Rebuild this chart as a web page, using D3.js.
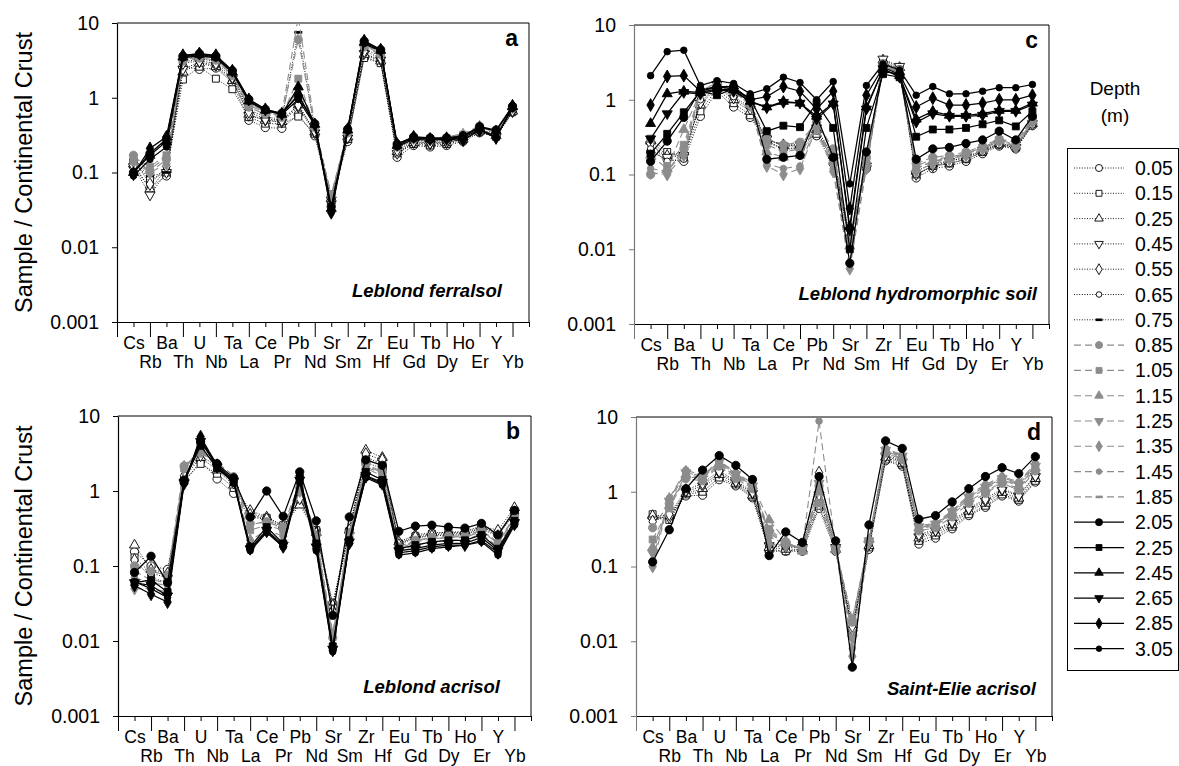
<!DOCTYPE html>
<html>
<head>
<meta charset="utf-8">
<script src="https://cdn.jsdelivr.net/npm/d3@7"></script>
<style>
  body { margin: 0; background: #fff; }
  svg { display: block; font-family: "Liberation Sans", Arial, sans-serif; }
</style>
</head>
<body>
<svg id="chart" width="1179" height="766"></svg>
<script>
// element order along the x axis (1..24)
const elements = ["Cs","Rb","Ba","Th","U","Nb","Ta","La","Ce","Pr","Pb","Nd",
                  "Sr","Sm","Zr","Hf","Eu","Gd","Tb","Dy","Ho","Er","Y","Yb"];
const yTicks = [0.001, 0.01, 0.1, 1, 10];
const depthLabels = ["0.05","0.15","0.25","0.45","0.55","0.65","0.75","0.85","1.05","1.15",
                     "1.25","1.35","1.45","1.85","2.05","2.25","2.45","2.65","2.85","3.05"];

// a - Leblond ferralsol
const ferralsolDepths = ["0.05","0.15","0.25","0.45","0.55","0.75","0.85","1.05","1.35","1.85","2.05","2.45","2.85","3.05"];
const ferralsolValues = [
  [0.12,0.062,0.09,2.6,2.4,2.5,1.6,0.5,0.4,0.39,0.6,0.31,0.04,0.26,3.5,3.0,0.16,0.23,0.22,0.23,0.26,0.34,0.3,0.64],
  [0.14,0.08,0.1,1.75,2.6,1.8,1.3,0.55,0.45,0.45,0.56,0.33,0.042,0.28,3.4,2.9,0.18,0.24,0.23,0.24,0.27,0.35,0.3,0.65],
  [0.13,0.06,0.11,2.2,2.9,2.6,1.7,0.6,0.5,0.48,0.8,0.35,0.045,0.3,3.8,3.1,0.19,0.25,0.25,0.25,0.28,0.36,0.31,0.66],
  [0.12,0.05,0.1,2.4,3.0,2.7,1.8,0.58,0.5,0.47,0.75,0.34,0.043,0.29,3.9,3.2,0.18,0.25,0.24,0.25,0.28,0.36,0.3,0.65],
  [0.15,0.07,0.12,2.9,3.1,2.9,1.9,0.65,0.52,0.5,0.8,0.36,0.045,0.3,4.2,3.4,0.2,0.26,0.25,0.26,0.29,0.37,0.32,0.68],
  [0.14,0.09,0.1,3.0,3.3,3.1,2.0,0.7,0.55,0.52,7.5,0.38,0.045,0.32,4.5,3.6,0.21,0.27,0.26,0.27,0.3,0.38,0.33,0.7],
  [0.17,0.1,0.15,3.1,3.4,3.2,2.0,0.75,0.6,0.55,6.0,0.4,0.05,0.34,4.8,3.8,0.22,0.28,0.27,0.28,0.31,0.4,0.34,0.72],
  [0.16,0.12,0.17,3.2,3.5,3.3,2.1,0.8,0.63,0.57,1.8,0.41,0.05,0.35,5.0,3.9,0.22,0.29,0.28,0.29,0.32,0.41,0.35,0.74],
  [0.14,0.1,0.13,3.3,3.6,3.4,2.1,0.85,0.65,0.58,1.3,0.42,0.048,0.36,5.2,4.0,0.23,0.29,0.28,0.29,0.32,0.41,0.35,0.75],
  [0.13,0.11,0.16,3.3,3.6,3.4,2.2,0.85,0.66,0.6,12,0.43,0.048,0.37,5.2,4.1,0.23,0.3,0.29,0.3,0.33,0.42,0.36,0.76],
  [0.1,0.18,0.28,3.6,3.9,3.6,2.3,0.95,0.7,0.62,1.05,0.45,0.035,0.38,5.7,4.4,0.24,0.3,0.29,0.29,0.31,0.41,0.37,0.77],
  [0.1,0.17,0.26,3.5,3.8,3.5,2.2,0.9,0.68,0.6,1.4,0.44,0.033,0.37,5.5,4.3,0.23,0.29,0.28,0.29,0.3,0.4,0.36,0.76],
  [0.095,0.21,0.3,3.7,3.9,3.7,2.3,0.95,0.7,0.61,1.1,0.44,0.029,0.38,5.8,4.4,0.24,0.3,0.28,0.28,0.27,0.37,0.29,0.78],
  [0.09,0.15,0.22,3.4,3.7,3.4,2.2,0.9,0.67,0.6,0.95,0.43,0.031,0.36,5.3,4.2,0.22,0.28,0.27,0.28,0.29,0.38,0.3,0.72]
];

// b - Leblond acrisol
const acrisolDepths = ["0.05","0.15","0.25","0.55","0.85","1.05","1.35","1.45","2.05","2.25","2.65","2.85","3.05"];
const acrisolValues = [
  [0.155,0.1,0.09,1.3,2.5,1.45,0.93,0.45,0.42,0.33,0.75,0.3,0.032,0.3,2.4,2.0,0.2,0.24,0.26,0.27,0.27,0.32,0.26,0.5],
  [0.13,0.08,0.07,1.4,2.3,1.7,1.1,0.5,0.44,0.35,0.7,0.3,0.028,0.29,2.8,2.3,0.2,0.25,0.27,0.28,0.28,0.33,0.27,0.55],
  [0.19,0.09,0.08,1.5,2.8,1.9,1.2,0.55,0.45,0.34,0.65,0.28,0.03,0.3,3.5,2.8,0.21,0.26,0.28,0.28,0.29,0.34,0.3,0.6],
  [0.12,0.07,0.06,1.6,3.0,2.1,1.3,0.48,0.42,0.3,0.8,0.27,0.025,0.3,3.1,2.6,0.19,0.24,0.25,0.26,0.26,0.31,0.25,0.52],
  [0.1,0.085,0.075,2.15,3.2,2.3,1.5,0.37,0.38,0.33,1.1,0.26,0.011,0.28,2.3,1.8,0.18,0.22,0.24,0.25,0.25,0.3,0.2,0.45],
  [0.085,0.065,0.06,2.0,3.4,2.2,1.45,0.3,0.35,0.3,1.2,0.24,0.012,0.26,2.1,1.7,0.17,0.21,0.23,0.24,0.24,0.29,0.2,0.44],
  [0.05,0.05,0.045,2.1,3.5,2.2,1.45,0.22,0.3,0.25,1.0,0.22,0.011,0.25,2.0,1.6,0.16,0.19,0.21,0.22,0.22,0.27,0.18,0.42],
  [0.07,0.06,0.055,2.2,3.3,2.4,1.6,0.35,0.4,0.34,1.3,0.25,0.013,0.27,2.2,1.75,0.17,0.22,0.23,0.24,0.25,0.3,0.21,0.46],
  [0.082,0.135,0.06,1.4,4.5,2.3,1.5,0.45,1.0,0.46,1.8,0.4,0.022,0.45,2.6,2.2,0.29,0.34,0.35,0.33,0.32,0.37,0.26,0.55],
  [0.06,0.065,0.045,1.35,4.0,2.0,1.3,0.18,0.33,0.2,1.5,0.2,0.0085,0.22,1.8,1.4,0.17,0.19,0.21,0.22,0.22,0.26,0.17,0.4],
  [0.06,0.055,0.04,1.3,4.6,2.1,1.35,0.17,0.3,0.19,1.4,0.18,0.0078,0.21,1.6,1.3,0.16,0.17,0.19,0.2,0.2,0.24,0.16,0.38],
  [0.055,0.042,0.033,1.25,5.3,2.2,1.4,0.17,0.29,0.18,1.6,0.17,0.0075,0.2,1.55,1.25,0.15,0.16,0.18,0.19,0.19,0.22,0.15,0.36],
  [0.062,0.05,0.038,1.3,5.0,2.1,1.3,0.16,0.28,0.18,1.3,0.16,0.0072,0.2,1.5,1.2,0.14,0.15,0.17,0.18,0.19,0.21,0.14,0.35]
];

// c - Leblond hydromorphic soil
const hydroDepths = ["0.05","0.15","0.25","0.45","0.65","0.85","1.05","1.15","1.35","1.45","2.05","2.25","2.45","2.65","2.85","3.05"];
const hydroValues = [
  [0.2,0.16,0.15,0.6,1.3,0.8,0.58,0.28,0.22,0.22,0.33,0.14,0.013,0.12,3.0,2.5,0.09,0.12,0.13,0.15,0.19,0.24,0.22,0.45],
  [0.3,0.2,0.17,0.7,1.4,0.9,0.62,0.3,0.24,0.24,0.35,0.16,0.014,0.13,3.2,2.6,0.1,0.13,0.14,0.16,0.2,0.25,0.23,0.47],
  [0.28,0.18,0.2,0.85,1.5,1.0,0.7,0.29,0.25,0.25,0.4,0.18,0.015,0.14,3.4,2.7,0.11,0.14,0.15,0.17,0.21,0.26,0.24,0.48],
  [0.25,0.17,0.18,0.9,1.6,1.05,0.75,0.3,0.24,0.25,0.42,0.17,0.014,0.13,3.5,2.8,0.1,0.13,0.15,0.17,0.21,0.26,0.23,0.48],
  [0.22,0.15,0.16,1.0,1.7,1.1,0.8,0.27,0.22,0.23,0.38,0.16,0.013,0.13,3.1,2.6,0.1,0.13,0.14,0.16,0.2,0.25,0.22,0.46],
  [0.1,0.11,0.22,1.2,1.6,1.3,0.85,0.3,0.25,0.27,0.5,0.22,0.014,0.17,3.0,2.5,0.14,0.17,0.18,0.2,0.24,0.3,0.27,0.55],
  [0.3,0.13,0.25,1.3,1.7,1.4,0.9,0.25,0.2,0.22,0.55,0.18,0.012,0.15,2.9,2.4,0.13,0.16,0.17,0.19,0.23,0.29,0.25,0.53],
  [0.18,0.12,0.4,1.25,1.6,1.35,0.88,0.2,0.17,0.18,0.45,0.15,0.011,0.14,2.8,2.4,0.12,0.15,0.16,0.19,0.22,0.28,0.24,0.52],
  [0.105,0.1,0.18,1.2,1.5,1.3,0.85,0.13,0.1,0.12,0.42,0.11,0.0055,0.12,2.7,2.3,0.11,0.14,0.16,0.18,0.22,0.28,0.23,0.5],
  [0.12,0.11,0.2,1.25,1.55,1.35,0.88,0.14,0.12,0.13,0.47,0.12,0.0065,0.13,2.75,2.35,0.12,0.15,0.17,0.19,0.23,0.29,0.24,0.52],
  [0.15,0.28,0.58,1.35,1.5,1.5,1.0,0.16,0.17,0.18,0.6,0.17,0.0065,0.2,2.4,2.2,0.16,0.22,0.23,0.26,0.29,0.38,0.29,0.6],
  [0.19,0.35,0.68,1.3,1.15,1.4,1.05,0.38,0.45,0.43,0.9,0.42,0.01,0.42,2.2,2.0,0.32,0.4,0.4,0.42,0.47,0.53,0.44,0.7],
  [0.48,1.2,1.3,1.25,1.4,1.35,0.95,0.8,0.95,0.9,0.6,0.9,0.02,0.8,2.5,2.1,0.55,0.7,0.62,0.62,0.65,0.72,0.72,0.9],
  [0.3,0.65,1.25,1.2,1.35,1.3,0.95,0.78,0.92,0.9,0.55,0.88,0.018,0.75,2.6,2.0,0.5,0.65,0.6,0.6,0.62,0.7,0.7,0.85],
  [0.85,2.05,2.1,1.3,1.5,1.4,1.0,1.1,1.5,1.3,0.75,1.3,0.035,1.15,2.7,2.2,0.8,1.05,0.85,0.85,0.9,1.0,1.0,1.15],
  [2.1,4.4,4.6,1.55,1.8,1.65,1.2,1.4,2.0,1.7,1.0,1.75,0.075,1.55,3.0,2.5,1.15,1.5,1.2,1.2,1.3,1.45,1.45,1.6]
];

// d - Saint-Elie acrisol
const saintElieDepths = ["0.05","0.15","0.25","0.45","0.55","0.85","1.05","1.15","1.25","1.35","1.45","2.05"];
const saintElieValues = [
  [0.45,0.45,0.88,0.9,1.45,1.2,0.83,0.16,0.16,0.16,0.6,0.16,0.013,0.17,2.6,2.2,0.2,0.24,0.32,0.48,0.62,0.88,0.75,1.35],
  [0.5,0.42,0.92,1.0,1.55,1.25,0.86,0.17,0.16,0.17,0.65,0.17,0.014,0.18,2.7,2.3,0.22,0.26,0.34,0.5,0.65,0.92,0.78,1.4],
  [0.48,0.48,0.95,1.1,1.7,1.3,0.9,0.18,0.17,0.17,0.8,0.17,0.015,0.19,2.9,2.4,0.24,0.28,0.36,0.55,0.7,0.98,0.82,1.5],
  [0.42,0.45,1.0,1.2,1.8,1.35,0.95,0.19,0.18,0.18,0.9,0.18,0.014,0.2,3.0,2.5,0.25,0.3,0.38,0.58,0.75,1.05,0.88,1.6],
  [0.4,0.5,1.05,1.3,1.9,1.4,1.0,0.2,0.19,0.18,1.8,0.18,0.016,0.2,3.1,2.6,0.27,0.31,0.4,0.6,0.8,1.1,0.9,1.65],
  [0.33,0.7,1.5,1.4,2.2,1.5,1.1,0.3,0.2,0.18,1.2,0.18,0.018,0.22,3.3,2.7,0.3,0.33,0.46,0.7,0.95,1.3,1.05,1.9],
  [0.23,0.6,1.6,1.5,2.3,1.6,1.15,0.32,0.21,0.17,0.7,0.17,0.02,0.22,3.4,2.8,0.32,0.35,0.5,0.75,1.0,1.35,1.1,2.0],
  [0.18,0.65,1.7,1.55,2.4,1.65,1.2,0.42,0.22,0.16,1.0,0.17,0.019,0.23,3.5,2.9,0.33,0.36,0.52,0.8,1.1,1.45,1.2,2.1],
  [0.15,0.75,1.8,1.6,2.5,1.7,1.2,0.28,0.2,0.17,1.3,0.17,0.011,0.22,3.6,3.0,0.34,0.37,0.54,0.85,1.15,1.5,1.25,2.2],
  [0.1,0.8,1.85,1.6,2.5,1.75,1.25,0.2,0.19,0.18,1.1,0.17,0.0063,0.21,3.7,3.0,0.33,0.36,0.55,0.85,1.2,1.55,1.3,2.3],
  [0.12,0.82,1.95,1.65,2.6,1.8,1.3,0.25,0.2,0.18,8.8,0.18,0.008,0.22,3.8,3.1,0.35,0.38,0.56,0.9,1.25,1.6,1.35,2.4],
  [0.115,0.31,1.1,1.95,3.05,2.25,1.46,0.14,0.29,0.21,1.6,0.22,0.0045,0.36,4.8,3.8,0.43,0.48,0.73,1.1,1.6,2.1,1.75,2.95]
];

// styling per depth
const depthMarkers = ["circle","square","triangle","triangleDown","diamond","smallCircle","dash",
                      "circle","square","triangle","triangleDown","diamond","smallCircle","dash",
                      "circle","square","triangle","triangleDown","diamond","smallCircle"];
const GRAY = "#8c8c8c";
function depthStyle(i) {
  if (i < 7) return {line: "#000", dash: "1,1.6", width: 0.9, fill: "#fff", stroke: "#000"};
  if (i < 14) return {line: GRAY, dash: "7,4", width: 1.1, fill: GRAY, stroke: GRAY};
  return {line: "#000", dash: null, width: 1.25, fill: "#000", stroke: "#000"};
}

function drawMarker(g, shape, st, k) {
  k = k || 1;
  if (shape === "dash") {
    return g.append("rect").attr("x", -4 * k).attr("y", -1.3).attr("width", 8 * k).attr("height", 2.6)
      .attr("fill", st.stroke);
  }
  const types = {circle: [d3.symbolCircle, 54], smallCircle: [d3.symbolCircle, 34], square: [d3.symbolSquare, 48],
                 triangle: [d3.symbolTriangle, 44], triangleDown: [d3.symbolTriangle, 44], diamond: [d3.symbolDiamond, 48]};
  const t = types[shape];
  return g.append("path")
    .attr("d", d3.symbol().type(t[0]).size(t[1] * k * k)())
    .attr("transform", shape === "triangleDown" ? "rotate(180)" : null)
    .attr("fill", st.fill).attr("stroke", st.stroke).attr("stroke-width", 0.9);
}

const panels = [
  {id: "a", name: "Leblond ferralsol", depths: ferralsolDepths, values: ferralsolValues,
   left: 117, right: 529, top: 23, bottom: 322, nameRight: 27, nameUp: 25, title: true, axisColor: "#000"},
  {id: "c", name: "Leblond hydromorphic soil", depths: hydroDepths, values: hydroValues,
   left: 634, right: 1049, top: 25, bottom: 324, nameRight: 12, nameUp: 24, title: false, axisColor: "#777"},
  {id: "b", name: "Leblond acrisol", depths: acrisolDepths, values: acrisolValues,
   left: 118, right: 531, top: 416, bottom: 716, nameRight: 31, nameUp: 23, title: true, axisColor: "#000"},
  {id: "d", name: "Saint-Elie acrisol", depths: saintElieDepths, values: saintElieValues,
   left: 636, right: 1052, top: 417, bottom: 716, nameRight: 16, nameUp: 21, title: false, axisColor: "#777"}
];

const svg = d3.select("#chart");

panels.forEach(function (p) {
  const x = d3.scaleLinear().domain([0, 25]).range([p.left, p.right]);
  const y = d3.scaleLog().domain([0.001, 10]).range([p.bottom, p.top]);
  const g = svg.append("g");

  g.append("clipPath").attr("id", "clip-" + p.id)
    .append("rect").attr("x", p.left).attr("y", p.top)
    .attr("width", p.right - p.left).attr("height", p.bottom - p.top);

  // frame (top and right)
  g.append("path")
    .attr("d", "M" + p.left + "," + p.top + "H" + p.right + "V" + p.bottom)
    .attr("fill", "none").attr("stroke", "#000").attr("stroke-width", 1);

  // y axis
  const ya = g.append("g").attr("transform", "translate(" + p.left + ",0)")
    .call(d3.axisLeft(y).tickValues(yTicks).tickFormat(d3.format("~g")).tickSize(5).tickSizeOuter(0).tickPadding(13));
  ya.select(".domain").attr("stroke", p.axisColor).attr("stroke-width", 1.2);
  ya.selectAll(".tick line").attr("stroke", p.axisColor);
  ya.selectAll("text").attr("font-size", 19.5).attr("fill", "#000");

  // x axis: minor ticks + first label row
  const xa1 = g.append("g").attr("transform", "translate(0," + p.bottom + ")")
    .call(d3.axisBottom(x).tickValues(d3.range(1, 26, 2)).tickSize(5).tickSizeOuter(0).tickPadding(10)
      .tickFormat(function (d) { return elements[d - 1] || ""; }));
  xa1.select(".domain").attr("stroke", "#000");
  xa1.selectAll("text").attr("font-size", 17.5).attr("fill", "#000");

  // major ticks + second label row
  const xa2 = g.append("g").attr("transform", "translate(0," + p.bottom + ")")
    .call(d3.axisBottom(x).tickValues(d3.range(0, 25, 2)).tickSize(15).tickSizeOuter(0).tickPadding(19)
      .tickFormat(function (d) { return d === 0 ? "" : elements[d - 1]; }));
  xa2.select(".domain").remove();
  xa2.selectAll("text").attr("font-size", 17.5).attr("fill", "#000");
  xa2.select(".tick line").attr("stroke", p.axisColor);

  // series
  const line = d3.line().x(function (d, i) { return x(i + 1); }).y(function (d) { return y(d); });
  const plot = g.append("g").attr("clip-path", "url(#clip-" + p.id + ")");
  p.depths.forEach(function (dep, si) {
    const di = depthLabels.indexOf(dep);
    const st = depthStyle(di);
    const vals = p.values[si];
    plot.append("path").datum(vals)
      .attr("d", line).attr("fill", "none")
      .attr("stroke", st.line).attr("stroke-width", st.width)
      .attr("stroke-dasharray", st.dash);
    vals.forEach(function (v, i) {
      const mg = plot.append("g").attr("transform", "translate(" + x(i + 1) + "," + y(v) + ")");
      drawMarker(mg, depthMarkers[di], st);
    });
  });

  // panel letter and soil name
  g.append("text").attr("x", p.right - 11).attr("y", p.top + 23)
    .attr("text-anchor", "end").attr("font-size", 23).attr("font-weight", "bold").text(p.id);
  g.append("text").attr("x", p.right - p.nameRight).attr("y", p.bottom - p.nameUp)
    .attr("text-anchor", "end").attr("font-size", 18.5).attr("font-weight", "bold")
    .attr("font-style", "italic").text(p.name);

  if (p.title) {
    g.append("text")
      .attr("transform", "translate(24," + ((p.top + p.bottom) / 2) + ") rotate(-90)")
      .attr("text-anchor", "middle").attr("dominant-baseline", "central")
      .attr("font-size", 23.5).text("Sample / Continental Crust");
  }
});

// legend
const leg = svg.append("g");
leg.append("text").attr("x", 1115).attr("y", 95).attr("text-anchor", "middle").attr("font-size", 19).text("Depth");
leg.append("text").attr("x", 1115).attr("y", 122).attr("text-anchor", "middle").attr("font-size", 19).text("(m)");
leg.append("rect").attr("x", 1067.5).attr("y", 148.5).attr("width", 111).attr("height", 522)
  .attr("fill", "none").attr("stroke", "#000");
depthLabels.forEach(function (dep, i) {
  const cy = 168 + i * 25.3;
  const st = depthStyle(i);
  leg.append("line").attr("x1", 1074).attr("x2", 1124).attr("y1", cy).attr("y2", cy)
    .attr("stroke", st.line).attr("stroke-width", st.width).attr("stroke-dasharray", st.dash);
  const mg = leg.append("g").attr("transform", "translate(1099," + cy + ")");
  drawMarker(mg, depthMarkers[i], st, 0.85);
  leg.append("text").attr("x", 1135).attr("y", cy).attr("dy", "0.36em").attr("font-size", 19.5).text(dep);
});
</script>
</body>
</html>
